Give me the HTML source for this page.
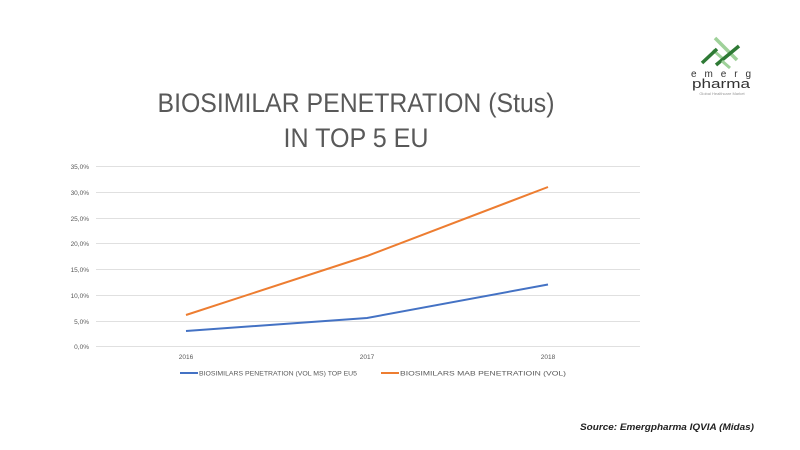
<!DOCTYPE html>
<html><head><meta charset="utf-8"><style>
html,body{margin:0;padding:0;background:#fff;}
svg{display:block;font-family:"Liberation Sans",sans-serif;}
</style></head><body>
<svg width="800" height="450" viewBox="0 0 800 450">
<!-- logo -->
<g stroke-linecap="butt">
<line x1="715" y1="38" x2="737" y2="60" stroke="#9fd19a" stroke-width="3.5"/>
<line x1="713" y1="50" x2="722" y2="58" stroke="#9fd19a" stroke-width="3"/>
<line x1="702" y1="63" x2="717" y2="49" stroke="#2e7a35" stroke-width="3.5"/>
<line x1="716" y1="65" x2="739" y2="46" stroke="#2e7a35" stroke-width="3.5"/>
<line x1="722" y1="61" x2="730" y2="68" stroke="#9fd19a" stroke-width="3"/>
</g>
<text x="721" y="77" font-size="10" fill="#333" text-anchor="middle" textLength="60" lengthAdjust="spacing">e m e r g</text>
<text x="721" y="88" font-size="13" fill="#333" text-anchor="middle" textLength="58" lengthAdjust="spacingAndGlyphs">pharma</text>
<text x="722" y="95" font-size="4" fill="#999" text-anchor="middle">Global Healthcare Market</text>
<!-- title -->
<text x="356" y="112" font-size="27" fill="#595959" text-anchor="middle" textLength="397" lengthAdjust="spacingAndGlyphs">BIOSIMILAR PENETRATION (Stus)</text>
<text x="356" y="147" font-size="27" fill="#595959" text-anchor="middle" textLength="145" lengthAdjust="spacingAndGlyphs">IN TOP 5 EU</text>
<!-- grid -->
<g stroke="#e0e0e0" stroke-width="1">
<line x1="96" y1="166.5" x2="640" y2="166.5"/>
<line x1="96" y1="192.5" x2="640" y2="192.5"/>
<line x1="96" y1="218.5" x2="640" y2="218.5"/>
<line x1="96" y1="243.5" x2="640" y2="243.5"/>
<line x1="96" y1="269.5" x2="640" y2="269.5"/>
<line x1="96" y1="295.5" x2="640" y2="295.5"/>
<line x1="96" y1="321.5" x2="640" y2="321.5"/>
<line x1="96" y1="346.5" x2="640" y2="346.5"/>
</g>
<g font-size="6.5" fill="#595959" text-anchor="end">
<text x="89" y="169">35,0%</text>
<text x="89" y="195">30,0%</text>
<text x="89" y="221">25,0%</text>
<text x="89" y="246">20,0%</text>
<text x="89" y="272">15,0%</text>
<text x="89" y="298">10,0%</text>
<text x="89" y="324">5,0%</text>
<text x="89" y="349">0,0%</text>
</g>
<g font-size="6.5" fill="#595959" text-anchor="middle">
<text x="186" y="359">2016</text>
<text x="367" y="359">2017</text>
<text x="548" y="359">2018</text>
</g>
<polyline points="186,315 367,256 548,187" fill="none" stroke="#ed7d31" stroke-width="2"/>
<polyline points="186,331 367,318 548,284.5" fill="none" stroke="#4472c4" stroke-width="2"/>
<!-- legend -->
<line x1="180" y1="373" x2="198" y2="373" stroke="#4472c4" stroke-width="2"/>
<text x="199" y="375.5" font-size="6.5" fill="#595959" textLength="158" lengthAdjust="spacingAndGlyphs">BIOSIMILARS PENETRATION (VOL MS) TOP EU5</text>
<line x1="381" y1="373" x2="399" y2="373" stroke="#ed7d31" stroke-width="2"/>
<text x="400" y="375.5" font-size="6.5" fill="#595959" textLength="166" lengthAdjust="spacingAndGlyphs">BIOSIMILARS MAB PENETRATIOIN (VOL)</text>
<!-- source -->
<text x="754" y="430" font-size="9.5" font-weight="bold" font-style="italic" fill="#222" text-anchor="end" textLength="174" lengthAdjust="spacingAndGlyphs">Source: Emergpharma  IQVIA (Midas)</text>
</svg>
</body></html>
